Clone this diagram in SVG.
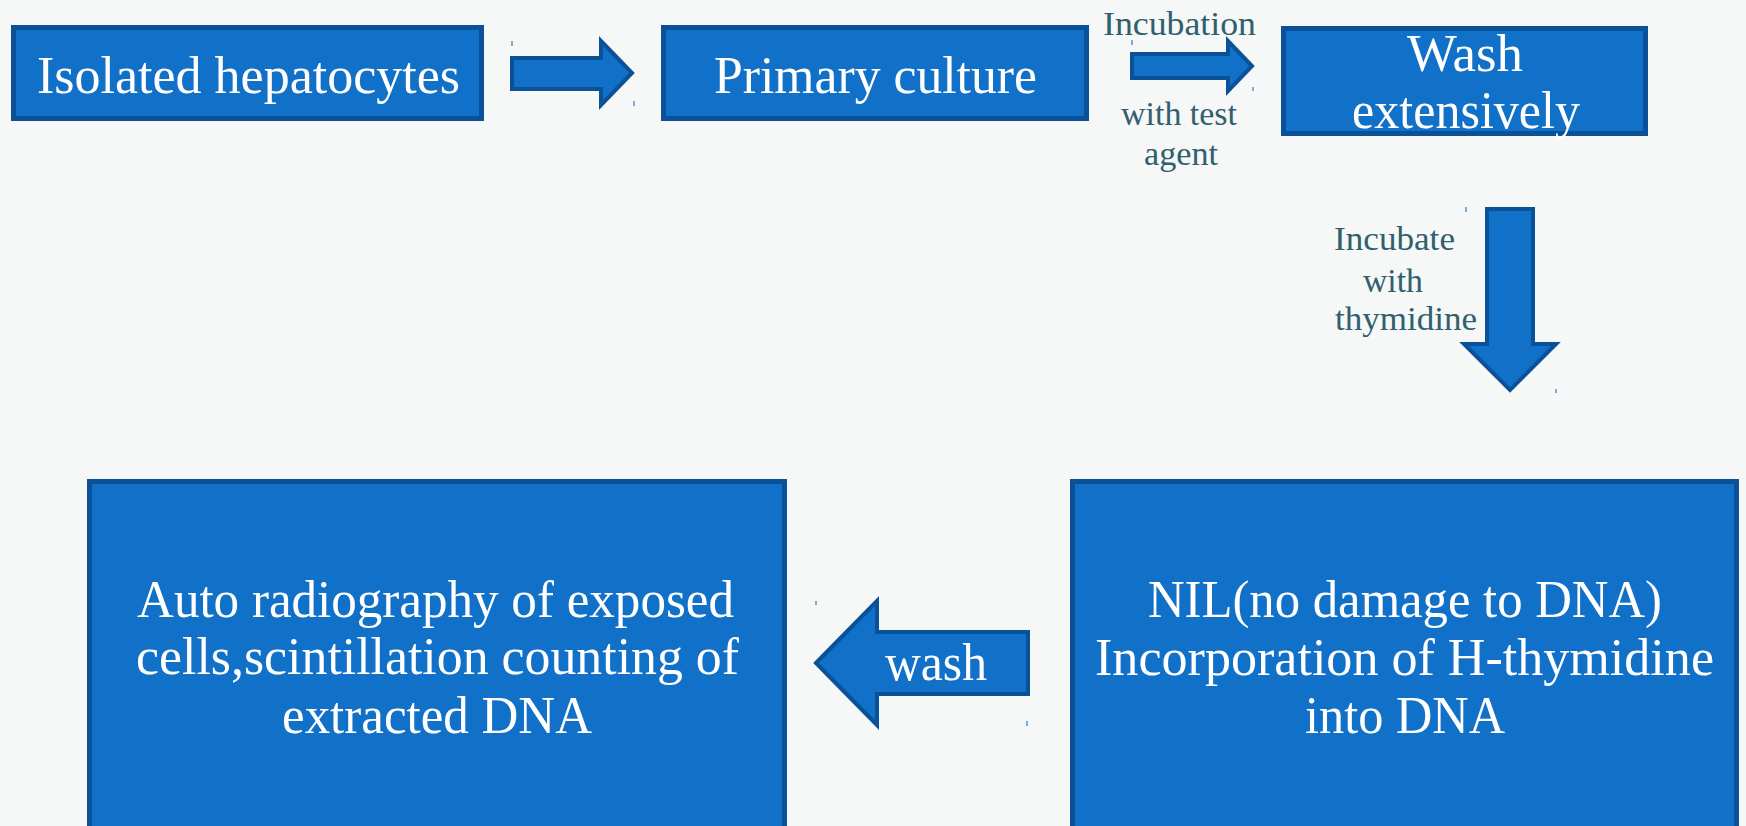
<svg xmlns="http://www.w3.org/2000/svg" width="1746" height="826" viewBox="0 0 1746 826">
<style>
.box{fill:#1170c7;stroke:#0b5197;stroke-width:5}
.arr{fill:#1170c7;stroke:#0b5197;stroke-width:4;stroke-linejoin:miter}
.t{font-family:"Liberation Serif","Times New Roman",serif;font-size:52px;fill:#ffffff}
.lbl{font-family:"Liberation Serif","Times New Roman",serif;font-size:33px;fill:#30606e}
.tick{stroke:#2a78c4;stroke-width:1.2}
</style>
<rect x="0" y="0" width="1746" height="826" fill="#f6f7f7"/>
<g id="connectors">
  <polygon class="arr" points="512,58 601,58 601,41 632,73 601,105 601,89 512,89"/>
  <polygon class="arr" points="1132,54 1228,54 1228,41 1252,66 1228,91 1228,78 1132,78"/>
  <polygon class="arr" points="1487,209 1533,209 1533,344 1556,344 1510,390 1464,344 1487,344"/>
  <polygon class="arr" points="816,663 877,601 877,632 1028,632 1028,694 877,694 877,725"/>
  <text class="lbl" x="1103" y="35" textLength="153" lengthAdjust="spacingAndGlyphs">Incubation</text>
  <text class="lbl" x="1121" y="125" textLength="116" lengthAdjust="spacingAndGlyphs">with test</text>
  <text class="lbl" x="1144" y="165" textLength="74" lengthAdjust="spacingAndGlyphs">agent</text>
  <text class="lbl" x="1334" y="250" textLength="121" lengthAdjust="spacingAndGlyphs">Incubate</text>
  <text class="lbl" x="1363" y="292" textLength="60" lengthAdjust="spacingAndGlyphs">with</text>
  <text class="lbl" x="1335" y="330" textLength="142" lengthAdjust="spacingAndGlyphs">thymidine</text>
  <text class="t" x="885" y="680" textLength="102" lengthAdjust="spacingAndGlyphs">wash</text>
  <line class="tick" x1="512" y1="41" x2="512" y2="46"/>
  <line class="tick" x1="634" y1="101" x2="634" y2="106"/>
  <line class="tick" x1="1132" y1="40" x2="1132" y2="45"/>
  <line class="tick" x1="1253" y1="87" x2="1253" y2="91"/>
  <line class="tick" x1="1466" y1="207" x2="1466" y2="212"/>
  <line class="tick" x1="1556" y1="389" x2="1556" y2="393"/>
  <line class="tick" x1="816" y1="601" x2="816" y2="605"/>
  <line class="tick" x1="1027" y1="721" x2="1027" y2="726"/>
</g>
<g id="node-isolated">
  <rect class="box" x="13.5" y="27.5" width="468" height="91"/>
  <text class="t" x="37" y="93" textLength="423" lengthAdjust="spacingAndGlyphs">Isolated hepatocytes</text>
</g>
<g id="node-primary">
  <rect class="box" x="663.5" y="27.5" width="423" height="91"/>
  <text class="t" x="714" y="93" textLength="323" lengthAdjust="spacingAndGlyphs">Primary culture</text>
</g>
<g id="node-wash">
  <rect class="box" x="1283.5" y="28.5" width="362" height="105"/>
  <text class="t" x="1407" y="71" textLength="116" lengthAdjust="spacingAndGlyphs">Wash</text>
  <text class="t" x="1352" y="128" textLength="228" lengthAdjust="spacingAndGlyphs">extensively</text>
</g>
<g id="node-nil">
  <rect class="box" x="1072.5" y="481.5" width="664" height="360"/>
  <text class="t" x="1148" y="617" textLength="514" lengthAdjust="spacingAndGlyphs">NIL(no damage to DNA)</text>
  <text class="t" x="1095" y="675" textLength="619" lengthAdjust="spacingAndGlyphs">Incorporation of H-thymidine</text>
  <text class="t" x="1305" y="733" textLength="200" lengthAdjust="spacingAndGlyphs">into DNA</text>
</g>
<g id="node-auto">
  <rect class="box" x="89.5" y="481.5" width="695" height="360"/>
  <text class="t" x="137" y="617" textLength="597" lengthAdjust="spacingAndGlyphs">Auto radiography of exposed</text>
  <text class="t" x="136" y="674" textLength="603" lengthAdjust="spacingAndGlyphs">cells,scintillation counting of</text>
  <text class="t" x="282" y="733" textLength="310" lengthAdjust="spacingAndGlyphs">extracted DNA</text>
</g>
</svg>
